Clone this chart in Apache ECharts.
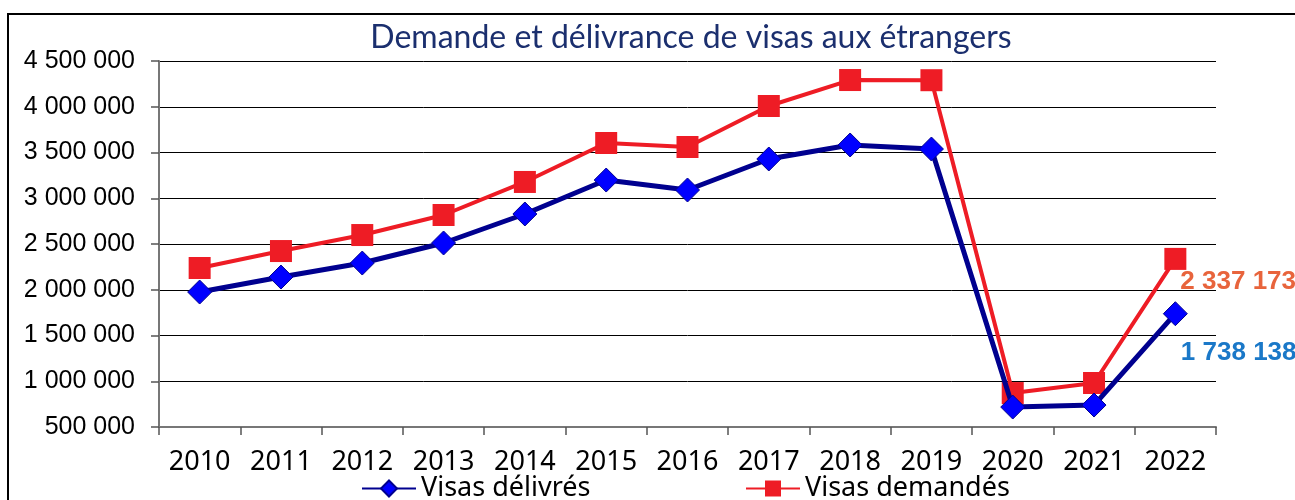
<!DOCTYPE html>
<html>
<head>
<meta charset="utf-8">
<script src="https://cdn.jsdelivr.net/npm/echarts@6/dist/echarts.min.js"></script>
<style>
  html, body { margin: 0; padding: 0; background: #fff; }
  #chart { width: 1295px; height: 500px; }
</style>
</head>
<body>
<div id="chart"></div>
<script>
const years = ['2010', '2011', '2012', '2013', '2014', '2015', '2016', '2017', '2018', '2019', '2020', '2021', '2022'];
const visasDelivres = [1975000, 2139000, 2292000, 2511000, 2828000, 3199000, 3090000, 3429000, 3582000, 3538000, 718000, 740000, 1738138];
const visasDemandes = [2238000, 2423000, 2598000, 2817000, 3178000, 3604000, 3560000, 4008000, 4292000, 4290000, 871000, 981000, 2337173];

const fmt = (v) => String(Math.round(v)).replace(/\B(?=(\d{3})+(?!\d))/g, ' ');

const chart = echarts.init(document.getElementById('chart'));

const lastLabel = (color, offset) => ({
  show: true,
  position: 'right',
  offset: offset,
  color: color,
  fontFamily: 'Liberation Sans, Arial, sans-serif',
  fontWeight: 'bold',
  fontSize: 26,
  formatter: (p) => fmt(p.value),
});

const lastIdx = years.length - 1;

chart.setOption({
  animation: false,
  title: {
    text: 'Demande et délivrance de visas aux étrangers',
    left: 686,
    textAlign: 'center',
    top: 17,
    textStyle: {
      color: '#1b2f6e',
      fontFamily: 'Lato, Noto Sans, sans-serif',
      fontWeight: 'normal',
      fontSize: 32,
    },
  },
  graphic: [
    {
      type: 'rect',
      shape: { x: 8, y: 14, width: 1400, height: 600 },
      style: { fill: 'none', stroke: '#000', lineWidth: 2 },
      silent: true,
      z: -1,
    },
  ],
  grid: { left: 159, right: 79, top: 61, bottom: 73 },
  legend: [
    {
      data: ['Visas délivrés'],
      left: 356,
      top: 470,
      itemWidth: 54,
      itemHeight: 20,
      textStyle: { color: '#000', fontFamily: 'Noto Sans, sans-serif', fontSize: 27 },
    },
    {
      data: ['Visas demandés'],
      left: 740,
      top: 470,
      itemWidth: 54,
      itemHeight: 20,
      textStyle: { color: '#000', fontFamily: 'Noto Sans, sans-serif', fontSize: 27 },
    },
  ],
  xAxis: {
    type: 'category',
    data: years,
    boundaryGap: true,
    axisLine: { show: true, lineStyle: { color: '#777', width: 2 } },
    axisTick: { show: true, length: 8, lineStyle: { color: '#555', width: 1.5 } },
    axisLabel: {
      color: '#000',
      fontFamily: 'Noto Sans, sans-serif',
      fontSize: 27,
      margin: 22,
    },
    splitLine: { show: false },
  },
  yAxis: {
    type: 'value',
    min: 500000,
    max: 4500000,
    interval: 500000,
    axisLine: { show: true, lineStyle: { color: '#777', width: 2 } },
    axisTick: { show: true, length: 8, lineStyle: { color: '#555', width: 1.5 } },
    axisLabel: {
      color: '#000',
      fontFamily: 'Liberation Sans, Arial, sans-serif',
      fontSize: 25,
      margin: 24,
      formatter: fmt,
    },
    splitLine: { show: true, lineStyle: { color: '#000', width: 1 } },
  },
  series: [
    {
      name: 'Visas délivrés',
      type: 'line',
      data: visasDelivres.map((v, i) => (i === lastIdx ? { value: v, label: lastLabel('#1a78c8', [-12, 39]) } : v)),
      symbol: 'diamond',
      symbolSize: 24,
      lineStyle: { color: '#00008f', width: 5 },
      itemStyle: { color: '#0000ff', borderColor: '#00008f', borderWidth: 1 },
      z: 3,
    },
    {
      name: 'Visas demandés',
      type: 'line',
      data: visasDemandes.map((v, i) => (i === lastIdx ? { value: v, label: lastLabel('#e8643c', [-11, 23]) } : v)),
      symbol: 'rect',
      symbolSize: 22,
      lineStyle: { color: '#ee1c25', width: 4 },
      itemStyle: { color: '#ee1c25' },
      z: 2,
    },
  ],
});
</script>
</body>
</html>
